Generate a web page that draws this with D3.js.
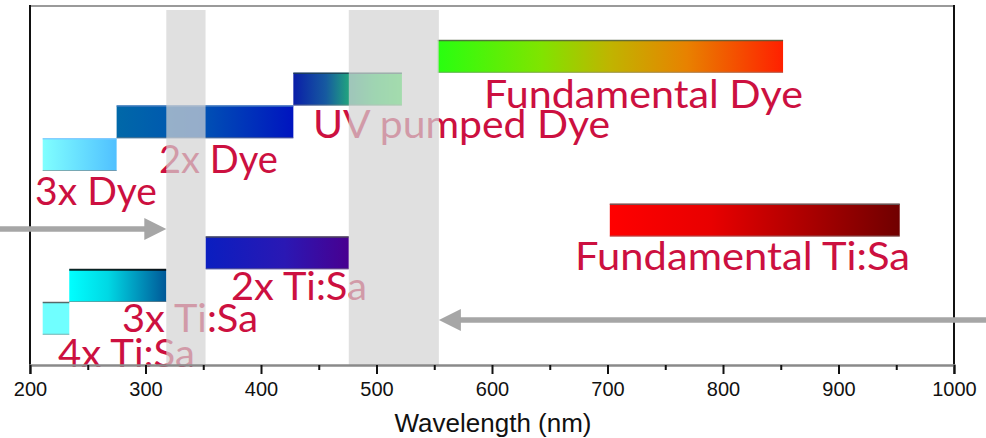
<!DOCTYPE html>
<html>
<head>
<meta charset="utf-8">
<script src="https://cdn.jsdelivr.net/npm/d3@7"></script>
<style>
  html, body { margin: 0; padding: 0; background: #fff; }
  svg { display: block; }
</style>
</head>
<body>
<svg id="chart" width="986" height="438"></svg>
<script>
// ---------- DATA ----------
const beamNames  = ["Fundamental Dye", "UV pumped Dye", "2x Dye", "3x Dye",
                    "Fundamental Ti:Sa", "2x Ti:Sa", "3x Ti:Sa", "4x Ti:Sa"];
const beamStart  = [553, 428, 275, 211, 702, 352, 234, 211];   // nm
const beamEnd    = [852, 522, 428, 275, 953, 476, 318, 234];   // nm
const beamRow    = [0, 1, 2, 3, 5, 6, 7, 8];                   // row index (top = 0)
const bandStart  = [318, 476];                                 // nm, shaded windows
const bandEnd    = [352, 554];
const xTicks     = [200, 300, 400, 500, 600, 700, 800, 900, 1000];
const xMinorTicks= [250, 350, 450, 550, 650, 750, 850, 950];
const xTitle     = "Wavelength (nm)";

// ---------- STYLE / LAYOUT ----------
const W = 986, H = 438;
const plot = { left: 30, right: 954, top: 6, bottom: 365 };
const rowTop = 40, rowH = 32.75;

const gradients = [
  [[0, "#28ff10"], [0.3, "#80e400"], [0.5, "#c0b400"], [0.72, "#e88200"], [1, "#ff2000"]],
  [[0, "#0a1ea8"], [0.3, "#165aa0"], [0.5, "#20a080"], [0.75, "#20d860"], [1, "#30f050"]],
  [[0, "#0068a8"], [0.5, "#0050b4"], [1, "#0014c0"]],
  [[0, "#80ffff"], [1, "#50c0ff"]],
  [[0, "#ff0000"], [0.35, "#e80000"], [0.7, "#a80000"], [1, "#700000"]],
  [[0, "#0a1ec0"], [0.55, "#2a18b4"], [1, "#480090"]],
  [[0, "#00ffff"], [0.4, "#00d8e4"], [1, "#005898"]],
  [[0, "#70ffff"], [1, "#70ffff"]]
];
const topEdge = ["#506040", "#204050", "#4a80c0", "#80c8ff", "#606060", "#505050", "#000000", "#505050"];
// label layout: left x (px), baseline y (px), target width (px)
const labelLayout = [
  [484, 108, 319], [313, 138, 297], [159, 173, 119], [35, 205, 122],
  [575, 270, 335], [231, 300, 136], [122, 332, 136], [58, 367, 137]
];
const labelColor = "#cc1040";

const svg = d3.select("#chart");

const x = d3.scaleLinear().domain([200, 1000]).range([plot.left, plot.right]);
const y = d3.scaleLinear().domain([0, 1]).range([rowTop, rowTop + rowH]);

// gradients
const defs = svg.append("defs");
gradients.forEach((stops, i) => {
  const g = defs.append("linearGradient").attr("id", "g" + i)
    .attr("x1", "0%").attr("x2", "100%").attr("y1", "0%").attr("y2", "0%");
  stops.forEach(s => g.append("stop").attr("offset", s[0]).attr("stop-color", s[1]));
});

// bars
const bars = svg.append("g");
beamNames.forEach((n, i) => {
  const x0 = x(beamStart[i]), x1 = x(beamEnd[i]);
  const y0 = y(beamRow[i]), y1 = y(beamRow[i] + 1);
  bars.append("rect")
    .attr("x", x0).attr("y", y0).attr("width", x1 - x0).attr("height", y1 - y0)
    .attr("fill", `url(#g${i})`);
  bars.append("line").attr("x1", x0).attr("x2", x1).attr("y1", y0 + 0.5).attr("y2", y0 + 0.5)
    .attr("stroke", topEdge[i]).attr("stroke-width", i === 6 ? 2 : 1.5).attr("stroke-opacity", 0.85);
  bars.append("line").attr("x1", x0).attr("x2", x1).attr("y1", y1 - 0.5).attr("y2", y1 - 0.5)
    .attr("stroke", "#808080").attr("stroke-width", 1).attr("stroke-opacity", 0.6);
});

// labels
const labels = svg.append("g")
  .attr("font-family", "Lato, 'Open Sans', sans-serif")
  .attr("font-size", 38).attr("fill", labelColor);
beamNames.forEach((n, i) => {
  const L = labelLayout[i];
  labels.append("text").attr("x", L[0]).attr("y", L[1])
    .attr("textLength", L[2]).attr("lengthAdjust", "spacingAndGlyphs")
    .text(n);
});

// shaded windows (semi-transparent, drawn over bars and text)
bandStart.forEach((b, i) => {
  svg.append("rect")
    .attr("x", x(b)).attr("y", plot.top + 4)
    .attr("width", x(bandEnd[i]) - x(b)).attr("height", plot.bottom - plot.top - 4)
    .attr("fill", "rgb(212,212,212)").attr("fill-opacity", 0.71);
});

// frame
svg.append("line").attr("x1", plot.left).attr("x2", plot.right).attr("y1", plot.top).attr("y2", plot.top)
  .attr("stroke", "#9a9a9a").attr("stroke-width", 2);
svg.append("line").attr("x1", plot.left).attr("x2", plot.left).attr("y1", plot.top - 1).attr("y2", plot.bottom + 9)
  .attr("stroke", "#111").attr("stroke-width", 2);
svg.append("line").attr("x1", plot.right).attr("x2", plot.right).attr("y1", plot.top - 1).attr("y2", plot.bottom + 9)
  .attr("stroke", "#111").attr("stroke-width", 2);

// arrows
const arrowColor = "#a6a6a6";
const aY1 = 229, aY2 = 320;
const tip1 = x(bandStart[0]), tip2 = x(bandEnd[1]);
svg.append("line").attr("x1", 0).attr("x2", tip1 - 18).attr("y1", aY1).attr("y2", aY1)
  .attr("stroke", arrowColor).attr("stroke-width", 5.5);
svg.append("path").attr("d", `M${tip1},${aY1} L${tip1 - 22},${aY1 - 11} L${tip1 - 22},${aY1 + 11} Z`)
  .attr("fill", arrowColor);
svg.append("line").attr("x1", tip2 + 18).attr("x2", W).attr("y1", aY2).attr("y2", aY2)
  .attr("stroke", arrowColor).attr("stroke-width", 5.5);
svg.append("path").attr("d", `M${tip2},${aY2} L${tip2 + 22},${aY2 - 11} L${tip2 + 22},${aY2 + 11} Z`)
  .attr("fill", arrowColor);

// x axis
const axisG = svg.append("g").attr("transform", `translate(0,${plot.bottom})`);
axisG.call(d3.axisBottom(x).tickValues(xTicks).tickSize(9).tickPadding(8).tickFormat(d3.format("d")));
axisG.select(".domain").attr("stroke", "#8a8a8a").attr("stroke-width", 2.5);
axisG.selectAll(".tick line").attr("stroke", "#111").attr("stroke-width", 2);
axisG.selectAll(".tick text")
  .attr("font-family", "'Liberation Sans', Arial, sans-serif").attr("font-size", 20).attr("fill", "#111");
const minorG = svg.append("g").attr("transform", `translate(0,${plot.bottom})`);
minorG.call(d3.axisBottom(x).tickValues(xMinorTicks).tickSize(5).tickFormat(""));
minorG.select(".domain").remove();
minorG.selectAll(".tick line").attr("stroke", "#111").attr("stroke-width", 2);

svg.append("text").attr("x", (plot.left + plot.right) / 2 + 1).attr("y", 432)
  .attr("text-anchor", "middle")
  .attr("font-family", "'Liberation Sans', Arial, sans-serif").attr("font-size", 26).attr("fill", "#111")
  .text(xTitle);
</script>
</body>
</html>
